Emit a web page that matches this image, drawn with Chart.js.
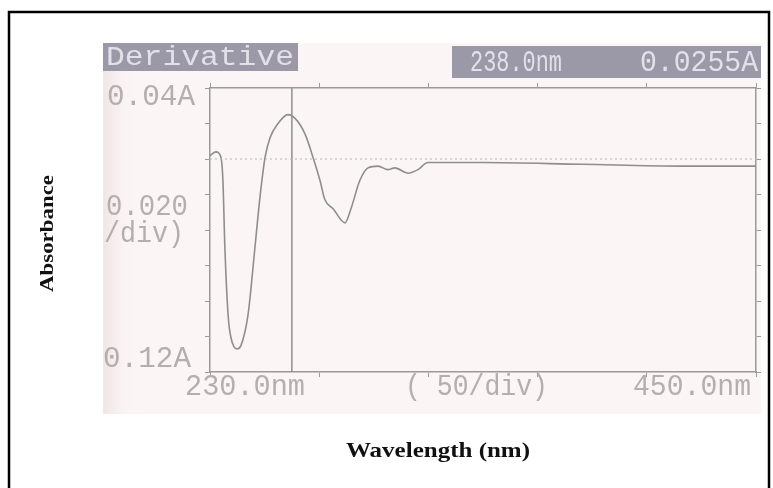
<!DOCTYPE html>
<html>
<head>
<meta charset="utf-8">
<script src="https://cdn.jsdelivr.net/npm/chart.js@4.4.1/dist/chart.umd.min.js"></script>
<style>
  html, body { margin: 0; padding: 0; background: #fff; }
  #wrap { width: 773px; height: 488px; }
</style>
</head>
<body>
<div id="wrap"><canvas id="chart" width="773" height="488"></canvas></div>
<script>
// values
const wavelength = [230, 232.4, 234.4, 235.2, 236.0, 237.3, 238.5, 240.9, 242.5, 245.3, 248.1, 250.1,
  252.2, 254.2, 257.4, 261.4, 264.2, 268.3, 271.5, 274.3, 276.3, 279.6, 284.4, 286.8, 290.4, 293.7,
  297.7, 301.7, 304.5, 309.8, 313.8, 317.8, 321.9, 340, 380, 420, 450];
const absorbance = [0.002, 0.004, 0.001, -0.012, -0.050, -0.088, -0.101, -0.107, -0.105, -0.088, -0.050, -0.022,
  0.001, 0.012, 0.020, 0.025, 0.023, 0.014, 0.001, -0.012, -0.023, -0.028, -0.036, -0.028, -0.012, -0.005,
  -0.004, -0.006, -0.005, -0.008, -0.006, -0.002, -0.002, -0.002, -0.003, -0.004, -0.004];

const xRange = [230, 450];
const yRange = [-0.12, 0.04];
const xDivisions = 5;
const yStep = 0.02;
const cursorWavelength = 263;

const headerLeft = 'Derivative';
const headerRight = ['238.0nm', '0.0255A'];
const yLabels = { top: '0.04A', mid: ['0.020', '/div)'], bottom: '0.12A' };
const xLabels = ['230.0nm', '( 50/div)', '450.0nm'];

const inkGrey = '#8e8e8e';
const axisGrey = '#9a9a9a';
const printGrey = '#b4aeae';
const mono = '"Liberation Mono", "DejaVu Sans Mono", monospace';
const serif = '"Liberation Serif", "Times New Roman", serif';

const spectrum = wavelength.map((w, i) => ({ x: w, y: absorbance[i] }));

function divTicks(scale) {
  const step = (xRange[1] - xRange[0]) / xDivisions;
  const ticks = [];
  for (let k = 0; k <= xDivisions; k++) ticks.push({ value: xRange[0] + k * step });
  scale.ticks = ticks;
}

// draw text squeezed/stretched to a given width (printout fonts are narrow and tall)
function fitText(ctx, text, x, y, width, stretchY) {
  const w = ctx.measureText(text).width;
  ctx.save();
  ctx.translate(x, y);
  ctx.scale(width / w, stretchY || 1);
  ctx.fillText(text, 0, 0);
  ctx.restore();
}

const paperPlugin = {
  id: 'paper',
  beforeDraw(chart) {
    const ctx = chart.ctx;
    ctx.save();
    ctx.fillStyle = '#ffffff';
    ctx.fillRect(0, 0, chart.width, chart.height);
    // scanned printout
    ctx.fillStyle = '#fbf6f5';
    ctx.fillRect(103, 43, 658, 371);
    const g = ctx.createLinearGradient(103, 0, 140, 0);
    g.addColorStop(0, '#f1e5e5');
    g.addColorStop(1, 'rgba(251,246,245,0)');
    ctx.fillStyle = g;
    ctx.fillRect(103, 43, 37, 371);
    // outer frame
    ctx.strokeStyle = '#000';
    ctx.lineWidth = 2.5;
    ctx.strokeRect(9, 12, 760, 490);
    // header boxes
    ctx.fillStyle = '#9b99a8';
    ctx.fillRect(103, 43, 195, 28);
    ctx.fillRect(452, 46, 309, 32);
    ctx.fillStyle = '#e2e0e8';
    ctx.textBaseline = 'middle';
    ctx.font = '24px ' + mono;
    fitText(ctx, headerLeft, 106, 58, 188, 1.15);
    fitText(ctx, headerRight[0], 470, 63, 92, 1.2);
    fitText(ctx, headerRight[1], 640, 63, 118, 1.2);
    ctx.restore();
  },
  afterDraw(chart) {
    const ctx = chart.ctx;
    const ys = chart.scales.y;
    ctx.save();
    ctx.fillStyle = printGrey;
    ctx.textBaseline = 'middle';
    ctx.font = '25px ' + mono;
    fitText(ctx, yLabels.top, 107, ys.getPixelForValue(yRange[1]) + 9, 88, 1.2);
    fitText(ctx, yLabels.mid[0], 106, ys.getPixelForValue(-0.027), 82, 1.2);
    fitText(ctx, yLabels.mid[1], 104, ys.getPixelForValue(-0.027) + 27, 80, 1.2);
    fitText(ctx, yLabels.bottom, 103, ys.getPixelForValue(yRange[0]) - 13, 88, 1.2);
    fitText(ctx, xLabels[0], 185, ys.bottom + 15, 120, 1.2);
    fitText(ctx, xLabels[1], 405, ys.bottom + 15, 143, 1.2);
    fitText(ctx, xLabels[2], 633, ys.bottom + 15, 118, 1.2);
    // axis titles
    ctx.fillStyle = '#111';
    ctx.font = 'bold 21px ' + serif;
    fitText(ctx, 'Wavelength (nm)', 346, 452, 184);
    ctx.font = 'bold 19px ' + serif;
    ctx.translate(48, 292);
    ctx.rotate(-Math.PI / 2);
    fitText(ctx, 'Absorbance', 0, 0, 117);
    ctx.restore();
  }
};

const tickGrid = {
  display: true,
  drawOnChartArea: false,
  drawTicks: true,
  tickLength: 5,
  color: axisGrey
};
const axisBorder = { display: true, color: axisGrey, width: 1.5 };

new Chart(document.getElementById('chart'), {
  type: 'line',
  data: {
    datasets: [
      {
        label: 'zero',
        data: [{ x: xRange[0], y: 0 }, { x: xRange[1], y: 0 }],
        borderColor: '#b8b4b4',
        borderWidth: 1.2,
        borderDash: [2, 3],
        pointRadius: 0
      },
      {
        label: 'cursor',
        data: [{ x: cursorWavelength, y: yRange[0] }, { x: cursorWavelength, y: yRange[1] }],
        borderColor: inkGrey,
        borderWidth: 1.5,
        pointRadius: 0
      },
      {
        label: 'first derivative',
        data: spectrum,
        borderColor: inkGrey,
        borderWidth: 1.6,
        pointRadius: 0,
        cubicInterpolationMode: 'monotone'
      }
    ]
  },
  options: {
    responsive: false,
    animation: false,
    devicePixelRatio: 1,
    layout: { padding: 0 },
    plugins: { legend: { display: false }, tooltip: { enabled: false } },
    scales: {
      x: {
        type: 'linear', position: 'bottom', min: xRange[0], max: xRange[1],
        afterBuildTicks: divTicks,
        afterFit(s) { s.height = 116; },
        ticks: { display: false },
        grid: tickGrid, border: axisBorder
      },
      x2: {
        type: 'linear', position: 'top', min: xRange[0], max: xRange[1],
        afterBuildTicks: divTicks,
        afterFit(s) { s.height = 88; },
        ticks: { display: false },
        grid: tickGrid, border: axisBorder
      },
      y: {
        type: 'linear', position: 'left', min: yRange[0], max: yRange[1],
        ticks: { display: false, stepSize: yStep },
        afterFit(s) { s.width = 210; },
        grid: tickGrid, border: axisBorder
      },
      y2: {
        type: 'linear', position: 'right', min: yRange[0], max: yRange[1],
        ticks: { display: false, stepSize: yStep },
        afterFit(s) { s.width = 17; },
        grid: tickGrid, border: axisBorder
      }
    }
  },
  plugins: [paperPlugin]
});
</script>
</body>
</html>
